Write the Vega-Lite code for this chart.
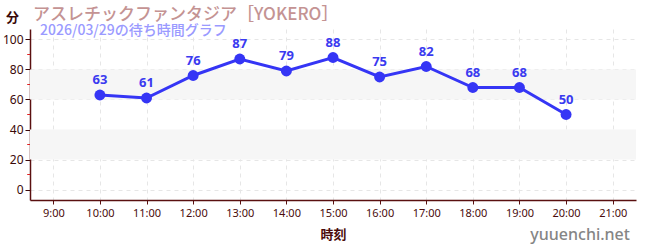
{
  "$schema": "https://vega.github.io/schema/vega-lite/v6.json",
  "width": 606,
  "height": 171,
  "autosize": {"type": "none"},
  "padding": {"left": 30, "top": 29, "right": 14, "bottom": 50},
  "background": "white",
  "title": {
    "text": "アスレチックファンタジア［YOKERO］",
    "anchor": "start",
    "frame": "group",
    "offset": -13,
    "dx": 3,
    "font": "Noto Sans CJK JP",
    "fontSize": 17,
    "fontWeight": 500,
    "color": "#c49393"
  },
  "config": {
    "view": {"stroke": null},
    "font": "Noto Sans CJK JP",
    "axisY": {
      "values": [0, 20, 40, 60, 80, 100],
      "labelOverlap": false,
      "titleAngle": 0,
      "titleX": -18,
      "titleY": -12,
      "titleAlign": "center",
      "titleBaseline": "middle",
      "titleFontSize": 13,
      "titleFontWeight": "bold",
      "titleColor": "#3a0808",
      "labelColor": "#3a0808",
      "labelFontSize": 12,
      "labelFont": "Noto Sans",
      "labelPadding": 2,
      "domainColor": "#5a1010",
      "domainWidth": 1.5,
      "tickColor": "#3a0808",
      "tickSize": 5,
      "grid": true,
      "gridColor": "#e6e6e6",
      "gridDash": [4, 4]
    }
  },
  "layer": [
    {
      "data": {"values": [{"lo": 20, "hi": 40}, {"lo": 60, "hi": 80}]},
      "mark": {"type": "rect", "color": "#f6f6f6"},
      "encoding": {
        "y": {
          "field": "lo", "type": "quantitative",
          "scale": {"domain": [-7, 107], "nice": false, "zero": false},
          "axis": {"title": "分"}
        },
        "y2": {"field": "hi"}
      }
    },
    {
      "data": {"values": [
        {"hour": 10, "wait": 63}, {"hour": 11, "wait": 61}, {"hour": 12, "wait": 76},
        {"hour": 13, "wait": 87}, {"hour": 14, "wait": 79}, {"hour": 15, "wait": 88},
        {"hour": 16, "wait": 75}, {"hour": 17, "wait": 82}, {"hour": 18, "wait": 68},
        {"hour": 19, "wait": 68}, {"hour": 20, "wait": 50}
      ]},
      "encoding": {
        "x": {
          "field": "hour", "type": "quantitative",
          "scale": {"domain": [8.5, 21.5], "nice": false, "zero": false},
          "axis": {
            "values": [9, 10, 11, 12, 13, 14, 15, 16, 17, 18, 19, 20, 21],
            "labelExpr": "datum.value + ':00'",
            "title": "時刻",
            "titleFontSize": 13,
            "titleFontWeight": "bold",
            "titleColor": "#4a0c0c",
            "titlePadding": 10,
            "labelColor": "#4a0c0c",
            "labelFontSize": 11,
            "labelFont": "Noto Sans",
            "labelPadding": 3,
            "domainColor": "#5a1010",
            "domainWidth": 1.5,
            "tickColor": "#5a1010",
            "tickSize": 4,
            "grid": true,
            "gridColor": "#e6e6e6",
            "gridDash": [4, 4]
          }
        },
        "y": {
          "field": "wait", "type": "quantitative",
          "scale": {"domain": [-7, 107], "nice": false, "zero": false},
          "axis": {"title": "分"}
        }
      },
      "layer": [
        {"mark": {"type": "line", "color": "#3535f5", "strokeWidth": 3}},
        {"mark": {"type": "point", "filled": true, "opacity": 1, "size": 120, "color": "#3535f5"}},
        {
          "mark": {"type": "text", "dy": -15, "fontSize": 13, "fontWeight": "bold", "color": "#3a3af0", "font": "Noto Sans"},
          "encoding": {"text": {"field": "wait", "type": "quantitative"}}
        }
      ]
    },
    {
      "data": {"values": [{"v": 10, "a": 8.44, "b": 8.5}, {"v": 30, "a": 8.44, "b": 8.5}, {"v": 50, "a": 8.44, "b": 8.5}, {"v": 70, "a": 8.44, "b": 8.5}, {"v": 90, "a": 8.44, "b": 8.5}]},
      "mark": {"type": "rule", "color": "#dd2222", "strokeWidth": 1, "clip": false},
      "encoding": {
        "x": {"field": "a", "type": "quantitative", "scale": {"domain": [8.5, 21.5], "nice": false, "zero": false}},
        "x2": {"field": "b"},
        "y": {"field": "v", "type": "quantitative", "scale": {"domain": [-7, 107], "nice": false, "zero": false}, "axis": {"title": "分"}}
      }
    },
    {
      "data": {"values": [{"x": 8.715, "y": 105.7, "t": "2026/03/29の待ち時間グラフ"}]},
      "mark": {"type": "text", "align": "left", "baseline": "middle", "fontSize": 14, "fontWeight": 500, "color": "#9a9aff", "font": "Noto Sans CJK JP", "clip": false},
      "encoding": {
        "x": {"field": "x", "type": "quantitative", "scale": {"domain": [8.5, 21.5], "nice": false, "zero": false}},
        "y": {"field": "y", "type": "quantitative", "scale": {"domain": [-7, 107], "nice": false, "zero": false}, "axis": {"title": "分"}},
        "text": {"field": "t"}
      }
    },
    {
      "data": {"values": [{"x": 21.37, "y": -30, "t": "yuuenchi.net"}]},
      "mark": {"type": "text", "align": "right", "baseline": "middle", "fontSize": 16, "fontWeight": 500, "color": "#858585", "font": "Noto Sans", "clip": false},
      "encoding": {
        "x": {"field": "x", "type": "quantitative", "scale": {"domain": [8.5, 21.5], "nice": false, "zero": false}},
        "y": {"field": "y", "type": "quantitative", "scale": {"domain": [-7, 107], "nice": false, "zero": false}, "axis": {"title": "分"}},
        "text": {"field": "t"}
      }
    }
  ]
}
